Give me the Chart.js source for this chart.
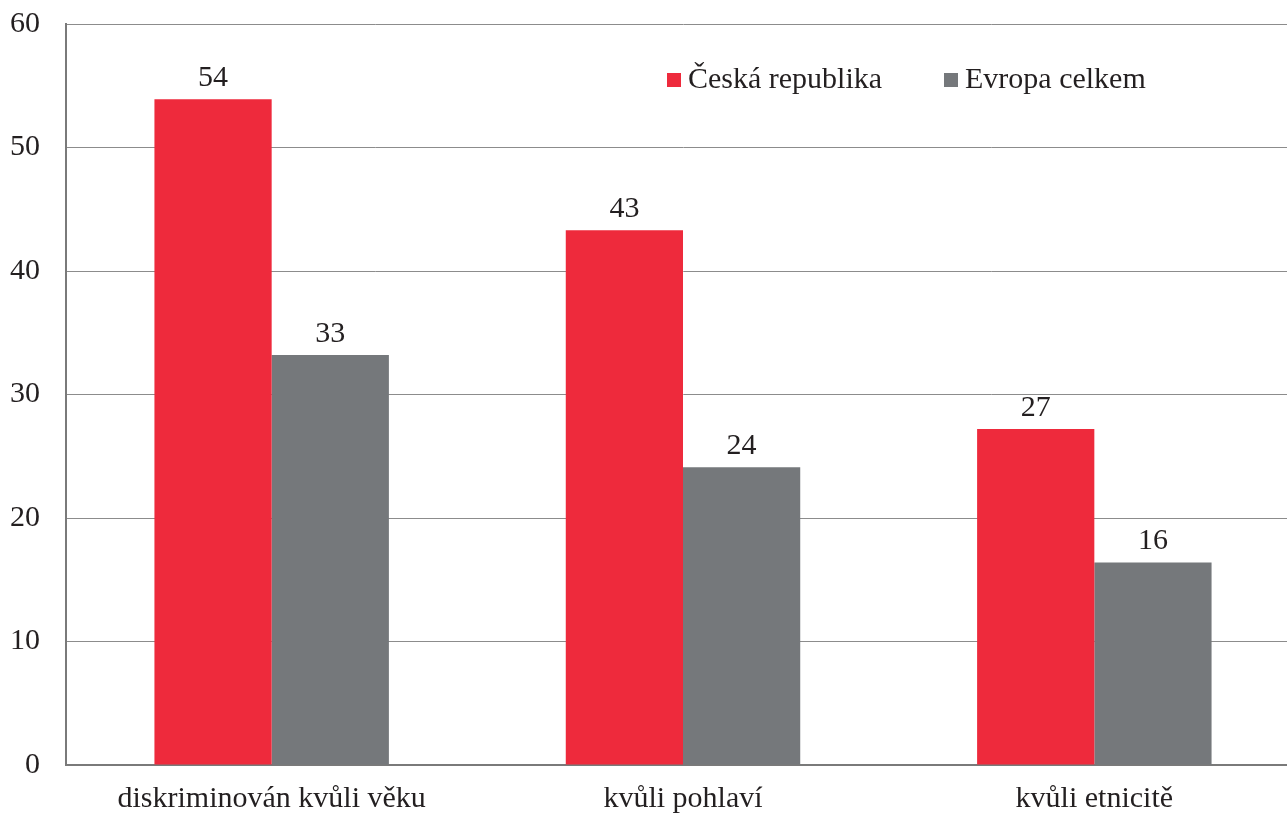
<!DOCTYPE html>
<html>
<head>
<meta charset="utf-8">
<script src="https://cdn.jsdelivr.net/npm/chart.js@4/dist/chart.umd.min.js"></script>
<style>
  html, body { margin: 0; padding: 0; background: #fff; overflow: hidden; }
  #wrap { width: 1287px; height: 814px; overflow: hidden; }
</style>
</head>
<body>
<div id="wrap"><canvas id="barChart" width="1300" height="814"></canvas></div>
<script>
var categories = ['diskriminován kvůli věku', 'kvůli pohlaví', 'kvůli etnicitě'];
var ceskaRepublika = [53.9, 43.3, 27.2];
var evropaCelkem = [33.2, 24.1, 16.4];
var seriesNames = ['Česká republika', 'Evropa celkem'];

var FONT = '"Liberation Serif", "Times New Roman", serif';
var TEXT = '#231f20';

// popisky hodnot nad sloupci
var valueLabels = {
    id: 'valueLabels',
    afterDatasetsDraw: function(chart) {
        var ctx = chart.ctx;
        ctx.save();
        ctx.font = '30px ' + FONT;
        ctx.fillStyle = TEXT;
        ctx.textAlign = 'center';
        ctx.textBaseline = 'alphabetic';
        chart.data.datasets.forEach(function(ds, i) {
            chart.getDatasetMeta(i).data.forEach(function(bar, j) {
                ctx.fillText(Math.round(ds.data[j]), bar.x, bar.y - 13);
            });
        });
        ctx.restore();
    }
};

// legenda uvnitr grafu
var innerLegend = {
    id: 'innerLegend',
    afterDraw: function(chart) {
        var ctx = chart.ctx;
        var xs = [667, 944];
        ctx.save();
        ctx.font = '30px ' + FONT;
        ctx.textBaseline = 'middle';
        chart.data.datasets.forEach(function(ds, i) {
            ctx.fillStyle = ds.backgroundColor;
            ctx.fillRect(xs[i], 73, 14, 14);
            ctx.fillStyle = TEXT;
            ctx.fillText(ds.label, xs[i] + 21, 80);
        });
        ctx.restore();
    }
};

var ctx = document.getElementById('barChart').getContext('2d');
var myChart = new Chart(ctx, {
    type: 'bar',
    data: {
        labels: categories,
        datasets: [{
            label: seriesNames[0],
            data: ceskaRepublika,
            backgroundColor: '#ee2a3c'
        }, {
            label: seriesNames[1],
            data: evropaCelkem,
            backgroundColor: '#75787b'
        }]
    },
    options: {
        responsive: false,
        animation: false,
        categoryPercentage: 0.57,
        barPercentage: 1,
        layout: { padding: { top: 24, right: 0, left: 0, bottom: 0 } },
        plugins: {
            legend: { display: false },
            tooltip: { enabled: false }
        },
        scales: {
            x: {
                grid: { display: false },
                border: { display: true, color: '#7a7a7a', width: 2 },
                ticks: { color: TEXT, font: { family: FONT, size: 30 }, padding: 8 },
                afterFit: function(s) { s.height = 49; }
            },
            y: {
                min: 0,
                max: 60,
                ticks: { stepSize: 10, color: TEXT, font: { family: FONT, size: 30 }, padding: 26 },
                grid: { color: '#8c8c8c', lineWidth: 1, drawTicks: false },
                border: { display: true, color: '#7a7a7a', width: 2 },
                afterFit: function(s) { s.width = 66; s.paddingTop = 0; s.paddingBottom = 0; }
            }
        }
    },
    plugins: [valueLabels, innerLegend]
});
</script>
</body>
</html>
